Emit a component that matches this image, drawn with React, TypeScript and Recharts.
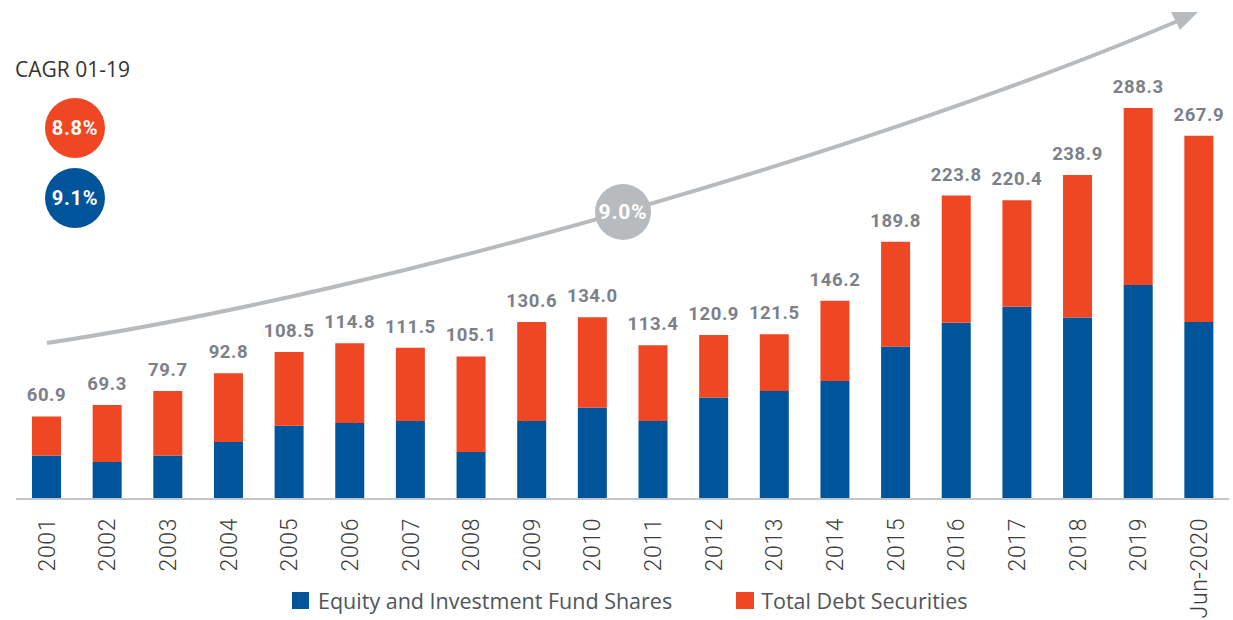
import { BarChart, Bar, XAxis, YAxis, LabelList } from 'recharts'

const years = [
  '2001', '2002', '2003', '2004', '2005', '2006', '2007', '2008', '2009', '2010',
  '2011', '2012', '2013', '2014', '2015', '2016', '2017', '2018', '2019', 'Jun-2020',
]
const totals = [
  60.9, 69.3, 79.7, 92.8, 108.5, 114.8, 111.5, 105.1, 130.6, 134.0,
  113.4, 120.9, 121.5, 146.2, 189.8, 223.8, 220.4, 238.9, 288.3, 267.9,
]
const equity = [
  32.0, 27.3, 32.0, 42.1, 54.1, 56.1, 57.6, 34.7, 57.6, 67.4,
  57.6, 74.8, 79.7, 87.1, 112.4, 129.9, 141.7, 133.8, 157.9, 130.6,
]
const debt = [
  28.9, 42.0, 47.7, 50.7, 54.4, 58.7, 53.9, 70.4, 73.0, 66.6,
  55.8, 46.1, 41.8, 59.1, 77.4, 93.9, 78.7, 105.1, 130.4, 137.3,
]

const BLUE = '#00549a'
const ORANGE = '#ef4723'
const GREY = '#b8bbbe'

const rows = years.map((year, i) => ({ year, equity: equity[i], debt: debt[i], total: totals[i] }))

function YearTick(props: any) {
  const { x, y, payload } = props
  return (
    <text
      transform={`translate(${x},${y}) rotate(-90)`}
      textAnchor="end"
      dy="0.36em"
      fontFamily="Roboto"
      fontSize={23}
      fontWeight={300}
      letterSpacing={0.6}
      fill="#3d3d3d"
    >
      {payload.value}
    </text>
  )
}

const badge = (bg: string, label: string, cx: number, cy: number, r: number, size: number) => (
  <div
    style={{
      position: 'absolute',
      left: cx - r,
      top: cy - r,
      width: r * 2,
      height: r * 2,
      borderRadius: '50%',
      background: bg,
      color: '#fff',
      fontFamily: 'Roboto',
      fontWeight: 700,
      fontSize: size,
      letterSpacing: 0.8,
      display: 'flex',
      alignItems: 'center',
      justifyContent: 'center',
    }}
  >
    {label}
  </div>
)

export default function App() {
  return (
    <div style={{ position: 'absolute', left: 0, top: 0, width: 1233, height: 620, background: '#fff' }}>
      <BarChart
        width={1233}
        height={620}
        data={rows}
        margin={{ top: 38, right: 4, left: 16, bottom: 0 }}
        barCategoryGap={0}
      >
        <XAxis
          dataKey="year"
          height={121}
          interval={0}
          tickLine={false}
          tickSize={0}
          tickMargin={19}
          axisLine={{ stroke: '#c3c6c9', strokeWidth: 2 }}
          tick={<YearTick />}
        />
        <YAxis hide domain={[0, 340]} />
        <Bar dataKey="equity" stackId="s" fill={BLUE} barSize={29} isAnimationActive={false} />
        <Bar dataKey="debt" stackId="s" fill={ORANGE} barSize={29} isAnimationActive={false}>
          <LabelList
            dataKey="total"
            position="top"
            offset={15}
            formatter={(v: any) => Number(v).toFixed(1)}
            style={{ fontFamily: 'Roboto', fontWeight: 700, fontSize: 18.5, letterSpacing: 0.6, fill: '#7b8089' }}
          />
        </Bar>
      </BarChart>

      <svg width={1233} height={620} style={{ position: 'absolute', left: 0, top: 0, pointerEvents: 'none' }}>
        <path d="M47,343 C400,290 900,140 1180,20" fill="none" stroke={GREY} strokeWidth={4} />
        <polygon points="1198,12 1171,12 1180,30" fill={GREY} />
      </svg>

      {badge(GREY, '9.0%', 623, 212, 28, 21)}

      <div
        style={{
          position: 'absolute',
          left: 15,
          top: 55,
          fontFamily: 'Open Sans',
          fontSize: 21,
          color: '#333',
          whiteSpace: 'nowrap',
        }}
      >
        CAGR 01-19
      </div>
      {badge(ORANGE, '8.8%', 75, 128, 30, 20)}
      {badge(BLUE, '9.1%', 75, 198, 30, 20)}

      <div
        style={{
          position: 'absolute',
          left: 292,
          top: 586,
          display: 'flex',
          alignItems: 'center',
          fontFamily: 'Open Sans',
          fontSize: 21.5,
          color: '#4f555b',
          whiteSpace: 'nowrap',
        }}
      >
        <span style={{ width: 17, height: 17, background: BLUE, marginRight: 9 }} />
        <span>Equity and Investment Fund Shares</span>
        <span style={{ width: 18, height: 17, background: ORANGE, marginLeft: 64, marginRight: 7 }} />
        <span>Total Debt Securities</span>
      </div>
    </div>
  )
}
